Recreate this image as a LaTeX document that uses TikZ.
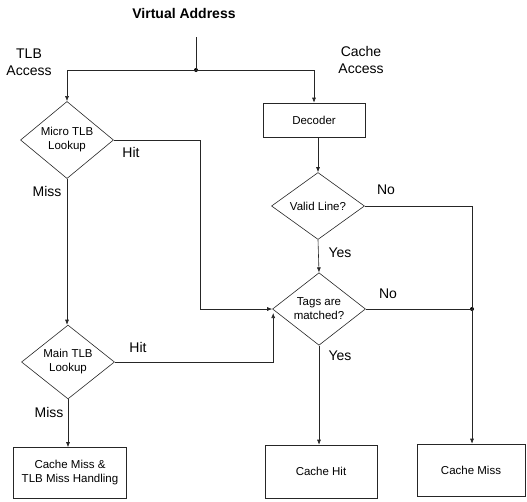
\documentclass[tikz,border=0pt]{standalone}
\usepackage{fontspec}
\setmainfont{Liberation Sans}
\usetikzlibrary{shapes.geometric,arrows.meta,calc}
\begin{document}
\begin{tikzpicture}[x=1pt,y=-1pt,
  line/.style={draw=black!85, line width=0.6pt},
  arr/.style={line, -{Latex[length=5pt,width=4pt]}},
  proc/.style={draw=black!85, line width=0.6pt, rectangle, align=center, font=\fontsize{11.5}{14}\selectfont, inner sep=0pt},
  dec/.style={draw=black!85, line width=0.6pt, diamond, align=center, font=\fontsize{11.5}{14}\selectfont, inner sep=0pt, minimum width=93pt, minimum height=67pt},
  lbl/.style={font=\fontsize{14}{17}\selectfont, align=center, inner sep=0pt},
  dot/.style={circle, fill=black, inner sep=0pt, minimum size=4pt}]
\useasboundingbox (0,0) rectangle (527,501);
% titles and labels
\node[font=\bfseries\fontsize{14}{17}\selectfont] (va) at (184,13) {Virtual Address};
\node[lbl] (tlbacc) at (29,62) {TLB\\Access};
\node[lbl] (cacheacc) at (361,60) {Cache\\Access};
% nodes
\coordinate (vatop) at (196,37);
\node[dot] (j1) at (196,70) {};
\node[dec] (micro) at (67,140) {Micro TLB\\Lookup};
\node[dec] (main) at (68,362) {Main TLB\\Lookup};
\node[proc, minimum width=113pt, minimum height=51pt] (tlbmiss) at (70,473) {Cache Miss \&\\TLB Miss Handling};
\node[proc, minimum width=102pt, minimum height=34pt] (decoder) at (314,120) {Decoder};
\node[dec] (valid) at (318,206) {Valid Line?};
\node[dec] (tags) at (319,309) {Tags are\\matched?};
\node[dot] (j2) at (472,309) {};
\node[proc, minimum width=112pt, minimum height=53pt] (chit) at (321,471.5) {Cache Hit};
\node[proc, minimum width=108pt, minimum height=52pt] (cmiss) at (471,470) {Cache Miss};
\coordinate (c1) at (200,309);
% connectors
\draw[line] (vatop) -- (j1.center);
\draw[arr] (j1.center) -| (micro.north);
\draw[arr] (j1.center) -| (decoder.north);
\draw[arr] (micro.south) -- (micro.south |- main.north);
\draw[arr] (micro.east) -| (c1) -- (tags.west);
\draw[arr] (main.east) -| ($(tags.west)+(1,4)$);
\draw[arr] (main.south) -- (main.south |- tlbmiss.north);
\draw[arr] (decoder.south -| valid.north) -- (valid.north);
\draw[arr] (valid.south) -- (tags.north);
\draw[line] (valid.east) -| (j2.center);
\draw[line] (tags.east) -- (j2.center);
\draw[arr] (j2.center) -- (j2.center |- cmiss.north);
\draw[arr] (tags.south) -- (tags.south |- chit.north);
% branch labels
\node[lbl] (l1) at (131,152) {Hit};
\node[lbl] (l2) at (47,191) {Miss};
\node[lbl] (l3) at (138,347) {Hit};
\node[lbl] (l4) at (49,412) {Miss};
\node[lbl] (l5) at (386,190) {No};
\node[lbl] (l6) at (340,253) {Yes};
\node[lbl] (l7) at (388,294) {No};
\node[lbl] (l8) at (340,356) {Yes};
\end{tikzpicture}
\end{document}
